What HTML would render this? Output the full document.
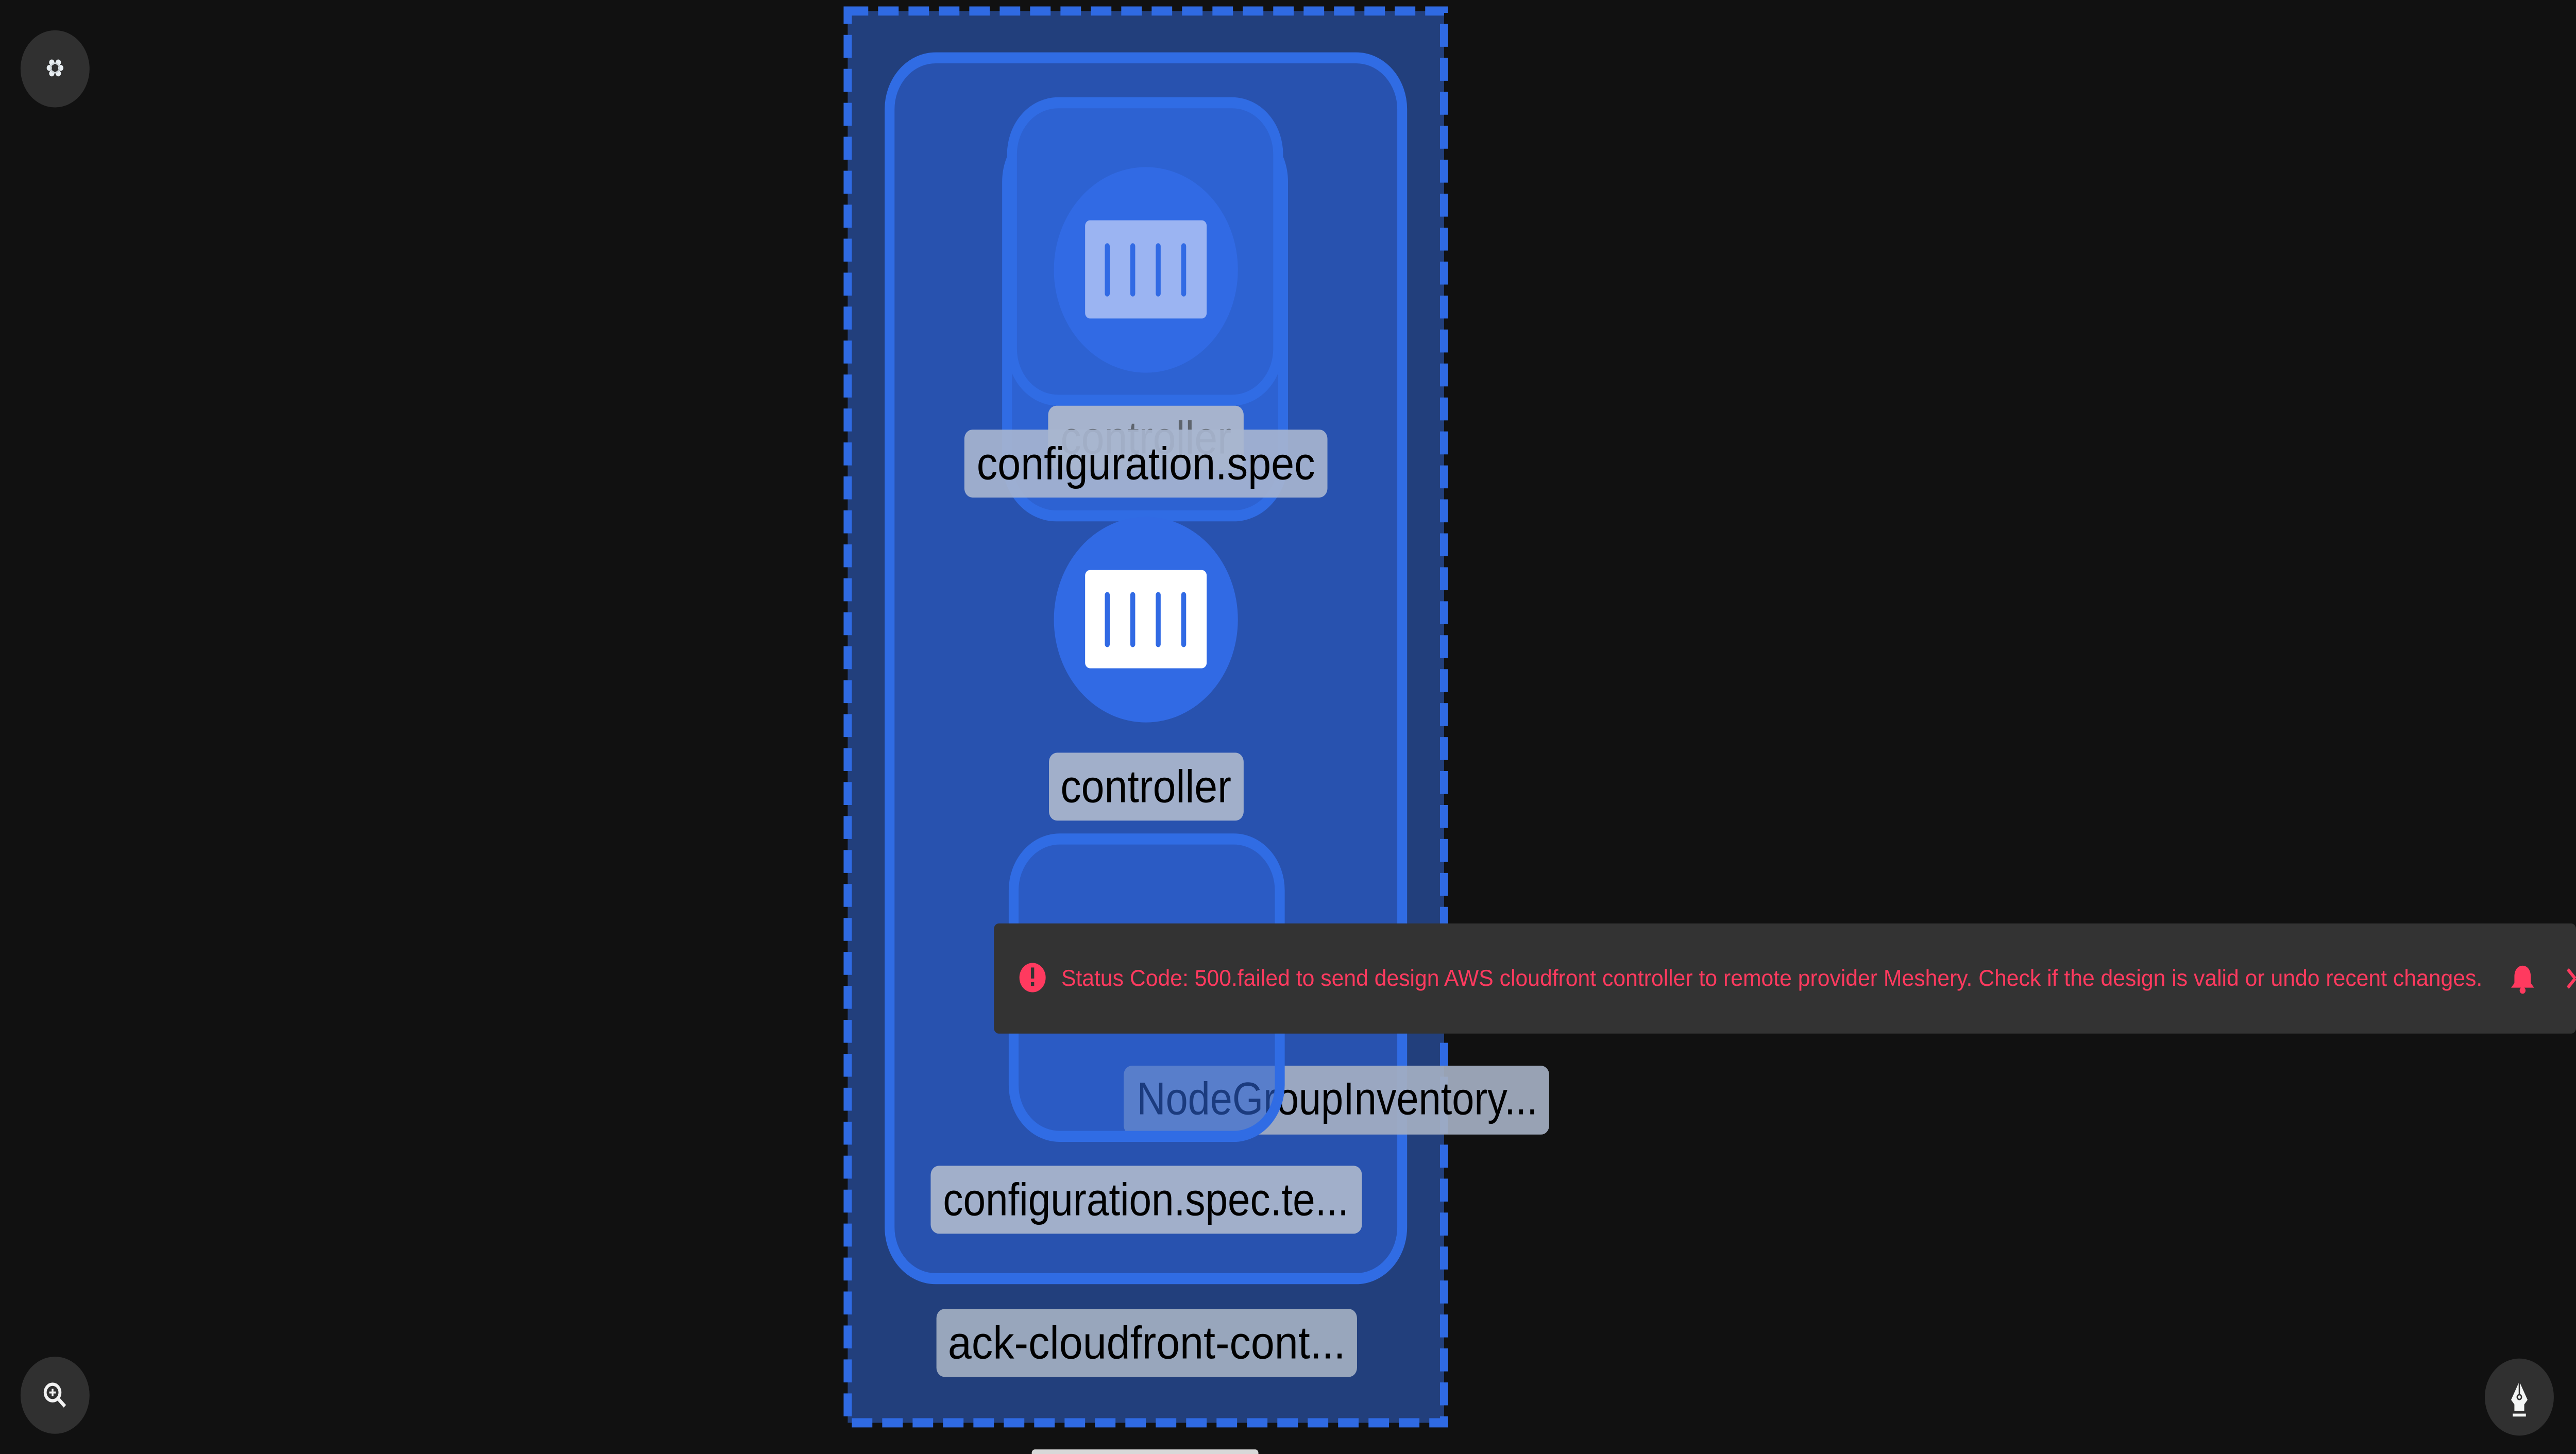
<!DOCTYPE html>
<html><head><meta charset="utf-8"><style>
html,body{margin:0;padding:0;background:#111111;overflow:hidden;width:100%;height:100%}
svg{display:block;position:fixed;left:0;top:0;width:100vw;height:100vh}
text{font-family:"Liberation Sans",sans-serif}
</style></head><body>
<svg viewBox="0 0 1568 792" preserveAspectRatio="none" xmlns="http://www.w3.org/2000/svg">
<rect x="0" y="0" width="1568" height="792" fill="#111111"/>
<rect x="516" y="6" width="363" height="769" fill="#223f7c" stroke="#2f6ae3" stroke-width="5" stroke-dasharray="12.5 6"/>
<rect x="541.5" y="31.5" width="312" height="665" rx="28" fill="#2852af" stroke="#306ce4" stroke-width="6"/>
<rect x="613" y="69" width="168" height="212" rx="30" fill="#2d62d2" stroke="#306ce4" stroke-width="6"/>
<rect x="616" y="56" width="162" height="162" rx="28" fill="#2d62d2" stroke="#306ce4" stroke-width="6"/>
<circle cx="697.5" cy="147" r="56" fill="#316ae4"/>
<rect x="660.5" y="120" width="74" height="53.5" rx="3" fill="#9bb4f2"/>
<g stroke="#316ae4" stroke-width="3" stroke-linecap="round">
<line x1="674" y1="134" x2="674" y2="160"/><line x1="689.5" y1="134" x2="689.5" y2="160"/>
<line x1="705" y1="134" x2="705" y2="160"/><line x1="720.5" y1="134" x2="720.5" y2="160"/></g>
<rect x="638" y="221" width="119" height="35" rx="5" fill="#a6b3cd"/>
<text x="697.5" y="247" font-size="25" text-anchor="middle" fill="#5e646d" textLength="104" lengthAdjust="spacingAndGlyphs">controller</text>
<rect x="587" y="234" width="221" height="37" rx="5" fill="#a9b6cf" fill-opacity="0.9"/>
<text x="697.5" y="261" font-size="25" text-anchor="middle" fill="#000" textLength="206" lengthAdjust="spacingAndGlyphs">configuration.spec</text>
<circle cx="697.5" cy="337.5" r="56" fill="#316ae4"/>
<rect x="660.5" y="310.5" width="74" height="53.5" rx="3" fill="#ffffff"/>
<g stroke="#316ae4" stroke-width="3" stroke-linecap="round">
<line x1="674" y1="324" x2="674" y2="351"/><line x1="689.5" y1="324" x2="689.5" y2="351"/>
<line x1="705" y1="324" x2="705" y2="351"/><line x1="720.5" y1="324" x2="720.5" y2="351"/></g>
<rect x="638.5" y="410" width="118.5" height="37" rx="5" fill="#a1afca"/>
<text x="697.5" y="437" font-size="25" text-anchor="middle" fill="#000" textLength="104" lengthAdjust="spacingAndGlyphs">controller</text>
<rect x="684" y="580.5" width="259" height="37.5" rx="5" fill="#a4afc2" fill-opacity="0.92"/>
<text x="692" y="607" font-size="25" fill="#000" textLength="244" lengthAdjust="spacingAndGlyphs">NodeGroupInventory...</text>
<rect x="617" y="457" width="162" height="162" rx="28" fill="#2d62d2" fill-opacity="0.6" stroke="#306ce4" stroke-width="6"/>
<rect x="566.5" y="635" width="262.5" height="37" rx="5" fill="#a1afca"/>
<text x="574" y="662" font-size="25" fill="#000" textLength="247" lengthAdjust="spacingAndGlyphs">configuration.spec.te...</text>
<rect x="570" y="713" width="256" height="37" rx="5" fill="#98a6bc"/>
<text x="577" y="740" font-size="25" fill="#000" textLength="242" lengthAdjust="spacingAndGlyphs">ack-cloudfront-cont...</text>
<rect x="628" y="789.5" width="138" height="4" rx="2" fill="#d8d8d8"/>
<rect x="605" y="503" width="963" height="60" rx="3" fill="#333333"/>
<circle cx="628.5" cy="532.5" r="8" fill="#ff3a5f"/>
<rect x="627.5" y="527" width="2" height="6" fill="#333"/><rect x="627.5" y="535" width="2" height="2" fill="#333"/>
<text x="646" y="537" font-size="12.5" fill="#ff3a5f" textLength="865" lengthAdjust="spacingAndGlyphs">Status Code: 500.failed to send design AWS cloudfront controller to remote provider Meshery. Check if the design is valid or undo recent changes.</text>
<path d="M1535.5 526 c-3 0 -5 2.5 -5 6 v3.5 l-2 2.5 h14 l-2 -2.5 v-3.5 c0 -3.5 -2 -6 -5 -6z" fill="#ff3a5f"/>
<circle cx="1535.5" cy="539.5" r="1.8" fill="#ff3a5f"/>
<path d="M1563 528 l4.5 5 M1563 538 l4.5 -5" stroke="#ff3a5f" stroke-width="1.8"/>
<circle cx="33.5" cy="37.5" r="21" fill="#303030"/>
<g fill="#e8eef2"><circle cx="31.5" cy="34" r="1.6"/><circle cx="35.5" cy="34" r="1.6"/><circle cx="30" cy="37" r="1.6"/><circle cx="37" cy="37" r="1.6"/><circle cx="31.5" cy="40" r="1.6"/><circle cx="35.5" cy="40" r="1.6"/><circle cx="33.5" cy="37" r="2.6" fill="none" stroke="#cfd6da" stroke-width="0.8"/></g>
<circle cx="33.5" cy="760" r="21" fill="#303030"/>
<circle cx="32" cy="758.5" r="4.5" fill="none" stroke="#f2f2f2" stroke-width="1.8"/>
<line x1="35.3" y1="761.8" x2="39.5" y2="766" stroke="#f2f2f2" stroke-width="2"/>
<path d="M30 758.5 h4 M32 756.5 v4" stroke="#f2f2f2" stroke-width="1.1"/>
<circle cx="1533.5" cy="761" r="21" fill="#303030"/>
<path d="M1533.5 752.5 l-5 10 l2 2.5 v3.5 h6 v-3.5 l2 -2.5z" fill="#f4f6f5"/>
<line x1="1533.5" y1="752.5" x2="1533.5" y2="760" stroke="#303030" stroke-width="0.8"/>
<circle cx="1533.5" cy="761" r="1.3" fill="none" stroke="#303030" stroke-width="0.8"/>
<rect x="1529.5" y="770" width="8" height="1.6" fill="#f4f6f5"/>
</svg>
</body></html>
